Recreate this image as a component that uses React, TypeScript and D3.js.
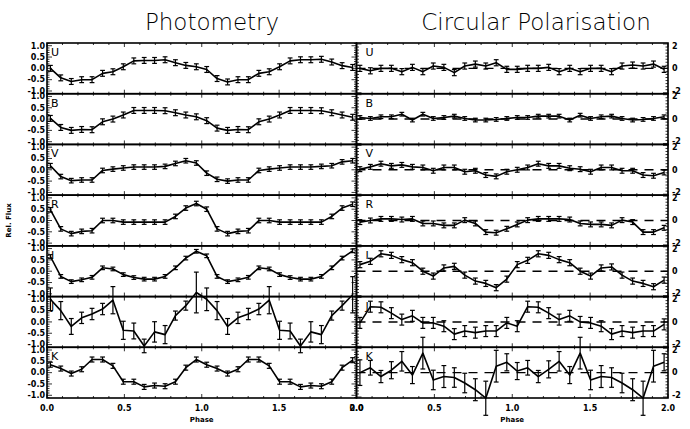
import React from "react";
import * as d3 from "d3";

// ---------- data ----------
const bands = ["U", "B", "V", "R", "I", "J", "K"];
const phases = [
  0.022, 0.089, 0.157, 0.224, 0.291, 0.359, 0.426, 0.493, 0.561, 0.628,
  0.695, 0.763, 0.83, 0.897, 0.965, 1.032, 1.099, 1.167, 1.234, 1.301,
  1.369, 1.436, 1.503, 1.571, 1.638, 1.705, 1.773, 1.84, 1.907, 1.975,
];

// Photometry (relative flux)
const photU = [0.0, -0.42, -0.58, -0.5, -0.5, -0.22, -0.15, 0.07, 0.33, 0.35, 0.35, 0.38, 0.25, 0.13, 0.07, -0.05, -0.45, -0.6, -0.5, -0.5, -0.22, -0.15, 0.07, 0.33, 0.38, 0.38, 0.4, 0.28, 0.12, 0.04];
const photB = [0.03, -0.37, -0.5, -0.46, -0.47, -0.12, 0.0, 0.18, 0.38, 0.38, 0.38, 0.37, 0.28, 0.18, 0.1, -0.07, -0.4, -0.5, -0.46, -0.47, -0.12, 0.0, 0.18, 0.38, 0.38, 0.38, 0.37, 0.28, 0.18, 0.08];
const photV = [0.18, -0.3, -0.48, -0.45, -0.45, -0.03, 0.03, 0.08, 0.12, 0.12, 0.12, 0.15, 0.28, 0.4, 0.3, -0.15, -0.42, -0.5, -0.45, -0.45, -0.03, 0.03, 0.08, 0.12, 0.12, 0.12, 0.15, 0.18, 0.35, 0.4];
const photR = [0.47, -0.37, -0.58, -0.48, -0.45, 0.0, 0.0, -0.07, -0.07, -0.07, -0.07, -0.07, 0.18, 0.55, 0.75, 0.5, -0.37, -0.58, -0.48, -0.45, 0.0, 0.0, -0.07, -0.07, -0.07, -0.07, -0.07, 0.18, 0.55, 0.72];
const photI = [0.65, -0.23, -0.46, -0.38, -0.27, 0.15, 0.1, -0.15, -0.28, -0.35, -0.35, -0.23, 0.15, 0.58, 0.88, 0.68, -0.23, -0.46, -0.38, -0.27, 0.15, 0.1, -0.15, -0.28, -0.35, -0.35, -0.23, 0.15, 0.58, 0.9];
const photJ = [1.0, 0.5, -0.2, 0.18, 0.35, 0.57, 0.96, -0.37, -0.4, -1.06, -0.44, -0.56, 0.28, 0.72, 1.3, 1.0, 0.5, -0.2, 0.18, 0.35, 0.57, 0.96, -0.37, -0.4, -1.06, -0.44, -0.56, 0.28, 0.72, 1.2];
const photK = [0.35, 0.18, -0.04, 0.15, 0.58, 0.58, 0.3, -0.4, -0.4, -0.63, -0.57, -0.6, -0.4, 0.22, 0.58, 0.35, 0.18, -0.04, 0.15, 0.58, 0.58, 0.3, -0.4, -0.4, -0.63, -0.57, -0.6, -0.4, 0.22, 0.55];

const photErrU = 0.13;
const photErrB = 0.13;
const photErrV = 0.1;
const photErrR = 0.1;
const photErrI = 0.08;
const photErrJ = [0.5, 0.4, 0.35, 0.25, 0.25, 0.25, 0.6, 0.4, 0.35, 0.3, 0.45, 0.4, 0.2, 0.2, 0.9, 0.5, 0.4, 0.35, 0.25, 0.25, 0.25, 0.6, 0.4, 0.35, 0.3, 0.45, 0.4, 0.2, 0.2, 0.8];
const photErrK = 0.11;

// Circular polarisation (%)
const polU = [0.0, -0.2, 0.0, 0.0, -0.27, 0.08, -0.27, 0.19, 0.08, -0.35, 0.19, 0.35, 0.19, 0.46, -0.08, -0.08, 0.0, 0.0, 0.08, -0.27, 0.0, -0.27, 0.0, 0.0, -0.27, 0.19, 0.27, 0.19, 0.35, -0.08];
const polB = [0.13, 0.05, 0.19, 0.19, 0.4, -0.08, 0.4, 0.05, 0.13, 0.24, 0.05, -0.08, -0.08, -0.03, 0.05, 0.13, 0.13, 0.24, 0.24, 0.24, -0.08, 0.32, 0.05, 0.19, 0.24, 0.05, -0.08, -0.03, 0.05, 0.19];
const polV = [0.05, 0.24, 0.5, 0.32, 0.4, 0.24, 0.19, -0.08, 0.19, 0.19, -0.16, -0.08, -0.43, -0.54, -0.16, 0.0, 0.19, 0.5, 0.32, 0.32, 0.13, 0.05, -0.16, 0.19, 0.19, -0.08, -0.08, -0.43, -0.49, -0.22];
const polR = [-0.13, 0.0, 0.13, 0.13, 0.08, 0.13, -0.24, -0.24, -0.4, -0.4, 0.03, -0.24, -0.95, -1.0, -0.68, -0.32, 0.03, 0.13, 0.13, 0.13, 0.08, -0.24, -0.32, -0.32, -0.4, 0.03, -0.13, -0.95, -0.95, -0.6];
const polI = [0.54, 0.81, 1.43, 1.3, 0.95, 0.7, 0.0, -0.4, 0.27, 0.4, -0.32, -0.81, -1.0, -1.35, -0.65, 0.54, 0.89, 1.43, 1.3, 0.95, 0.7, 0.0, -0.4, 0.27, 0.35, -0.32, -0.81, -1.0, -1.27, -0.73];
const polJ = [-0.08, 1.25, 1.2, 0.72, 0.19, 0.5, -0.08, -0.08, -0.35, -1.0, -0.75, -0.88, -0.75, -0.75, -0.08, -0.35, 1.25, 1.2, 0.72, 0.19, 0.5, 0.0, -0.08, -0.35, -1.0, -0.75, -0.88, -0.75, -0.75, -0.2];
const polK = [0.0, 0.4, -0.32, 0.2, 0.93, -0.2, 1.6, -0.6, -0.32, -0.4, -0.85, -1.4, -2.1, 0.53, 0.85, 0.13, 0.4, -0.32, 0.27, 0.93, -0.2, 1.6, -0.6, -0.32, -0.4, -0.85, -1.4, -2.1, 0.53, 0.85];

const polErrU = 0.25;
const polErrB = 0.15;
const polErrV = 0.2;
const polErrR = 0.2;
const polErrI = 0.25;
const polErrJ = 0.45;
const polErrK = [1.05, 0.6, 0.5, 0.7, 0.8, 0.7, 1.3, 0.8, 0.9, 0.8, 0.8, 0.9, 1.4, 1.3, 0.7, 0.7, 0.6, 0.5, 0.7, 0.8, 0.7, 1.3, 0.8, 0.9, 0.8, 0.8, 0.9, 1.4, 1.3, 0.7];

const xTickLabels = ["0.0", "0.5", "1.0", "1.5", "2.0"];
const xTickValues = [0, 0.5, 1, 1.5, 2];
const photTickValues = [-1, -0.5, 0, 0.5, 1];
const photTickLabels = ["-1.0", "-0.5", "0.0", "0.5", "1.0"];
const polTickValues = [-2, 0, 2];
const polTickLabels = ["-2", "0", "2"];

const photSeries = [photU, photB, photV, photR, photI, photJ, photK];
const photErrs = [photErrU, photErrB, photErrV, photErrR, photErrI, photErrJ, photErrK];
const polSeries = [polU, polB, polV, polR, polI, polJ, polK];
const polErrs = [polErrU, polErrB, polErrV, polErrR, polErrI, polErrJ, polErrK];

// ---------- layout ----------
const W = 690;
const H = 429;
const TOP = 43;
const BOTTOM = 398;
const LX0 = 47;
const MID = 356.5;
const RX1 = 668;
const PH = (BOTTOM - TOP) / bands.length;

const xL = d3.scaleLinear().domain([0, 2]).range([LX0, MID]);
const xR = d3.scaleLinear().domain([0, 2]).range([MID, RX1]);

const tickFont = "'DejaVu Sans', Verdana, sans-serif";

function ErrSeries({ xs, ys, vals, errs }) {
  const line = d3
    .line<number>()
    .x((_, i) => xs(phases[i]))
    .y((v) => ys(v));
  const cap = 2.4;
  return (
    <g>
      <path d={line(vals) || ""} fill="none" stroke="#000" strokeWidth={1.6} strokeLinejoin="round" />
      {vals.map((v, i) => {
        const e = Array.isArray(errs) ? errs[i] : errs;
        const x = xs(phases[i]);
        const y1 = ys(v - e);
        const y2 = ys(v + e);
        return (
          <g key={i} stroke="#000" strokeWidth={1.2}>
            <line x1={x} x2={x} y1={y1} y2={y2} />
            <line x1={x - cap} x2={x + cap} y1={y1} y2={y1} />
            <line x1={x - cap} x2={x + cap} y1={y2} y2={y2} />
          </g>
        );
      })}
    </g>
  );
}

function XTicks({ xs, top, bottom }) {
  const minor = d3.range(0, 2.0001, 0.1);
  return (
    <g stroke="#000" strokeWidth={0.8}>
      {minor.map((t, i) => {
        const major = Math.abs(t * 2 - Math.round(t * 2)) < 1e-6;
        const len = major ? 4 : 2;
        const x = xs(t);
        return (
          <g key={i}>
            <line x1={x} x2={x} y1={bottom} y2={bottom - len} />
            <line x1={x} x2={x} y1={top} y2={top + len} />
          </g>
        );
      })}
    </g>
  );
}

export default function App() {
  const panels = bands.map((b, k) => {
    const top = TOP + k * PH;
    const bot = top + PH;
    const yP = d3.scaleLinear().domain([-1.12, 1.12]).range([bot, top]);
    const yQ = d3.scaleLinear().domain([-2.08, 2.08]).range([bot, top]);
    const photMinor = d3.range(-1.1, 1.1001, 0.1);
    const polMinor = d3.range(-2, 2.0001, 0.25);
    return (
      <g key={b}>
        <g stroke="#000" strokeWidth={0.8}>
          {photMinor.map((t, i) => {
            const major = Math.abs(t * 2 - Math.round(t * 2)) < 1e-6;
            const len = major ? 5 : 2.5;
            return (
              <g key={i}>
                <line x1={LX0} x2={LX0 + len} y1={yP(t)} y2={yP(t)} />
                <line x1={MID} x2={MID - len} y1={yP(t)} y2={yP(t)} />
              </g>
            );
          })}
          {polMinor.map((t, i) => {
            const major = Math.abs(t / 2 - Math.round(t / 2)) < 1e-6;
            const len = major ? 5 : 2.5;
            return (
              <g key={i}>
                <line x1={MID} x2={MID + len} y1={yQ(t)} y2={yQ(t)} />
                <line x1={RX1} x2={RX1 - len} y1={yQ(t)} y2={yQ(t)} />
              </g>
            );
          })}
        </g>
        <XTicks xs={xL} top={top} bottom={bot} />
        <XTicks xs={xR} top={top} bottom={bot} />

        <line x1={MID} x2={RX1} y1={yQ(0)} y2={yQ(0)} stroke="#000" strokeWidth={1.4} strokeDasharray="9 7" />

        <ErrSeries xs={xL} ys={yP} vals={photSeries[k]} errs={photErrs[k]} />
        <ErrSeries xs={xR} ys={yQ} vals={polSeries[k]} errs={polErrs[k]} />

        <rect x={LX0} y={top} width={MID - LX0} height={PH} fill="none" stroke="#000" strokeWidth={1.6} />
        <rect x={MID} y={top} width={RX1 - MID} height={PH} fill="none" stroke="#000" strokeWidth={1.6} />

        <text x={LX0 + 4} y={top + 13} fontFamily={tickFont} fontSize={11}>{b}</text>
        <text x={MID + 9} y={top + 13} fontFamily={tickFont} fontSize={11}>{b}</text>

        {photTickValues.map((t, i) => (
          <text key={i} x={LX0 - 2} y={yP(t)} dy="0.35em" textAnchor="end" fontFamily={tickFont} fontWeight="bold" fontSize={8}>
            {photTickLabels[i]}
          </text>
        ))}
        {polTickValues.map((t, i) => (
          <text key={i} x={RX1 + 4} y={yQ(t) + (t > 0 ? 2 : t < 0 ? -2 : 0)} dy="0.35em" textAnchor="start" fontFamily={tickFont} fontWeight="bold" fontSize={8}>
            {polTickLabels[i]}
          </text>
        ))}
      </g>
    );
  });

  return (
    <svg width={W} height={H} style={{ position: "absolute", left: 0, top: 0, background: "#fff" }}>
      <rect x={0} y={0} width={W} height={H} fill="#fff" />
      <text x={212} y={30} textAnchor="middle" fontFamily={tickFont} fontWeight={300} fontSize={23}>Photometry</text>
      <text x={536} y={30} textAnchor="middle" fontFamily={tickFont} fontWeight={300} fontSize={23}>Circular Polarisation</text>
      {panels}
      {xTickValues.map((t, i) => (
        <g key={i}>
          <text x={xL(t)} y={411} textAnchor="middle" fontFamily={tickFont} fontWeight="bold" fontSize={8}>{xTickLabels[i]}</text>
          <text x={xR(t)} y={411} textAnchor="middle" fontFamily={tickFont} fontWeight="bold" fontSize={8}>{xTickLabels[i]}</text>
        </g>
      ))}
      <text x={(LX0 + MID) / 2} y={422} textAnchor="middle" fontFamily={tickFont} fontWeight="bold" fontSize={7}>Phase</text>
      <text x={(MID + RX1) / 2} y={422} textAnchor="middle" fontFamily={tickFont} fontWeight="bold" fontSize={7}>Phase</text>
      <text transform={`translate(11, ${TOP + 3.5 * PH}) rotate(-90)`} textAnchor="middle" fontFamily={tickFont} fontWeight="bold" fontSize={7}>Rel. Flux</text>
    </svg>
  );
}
